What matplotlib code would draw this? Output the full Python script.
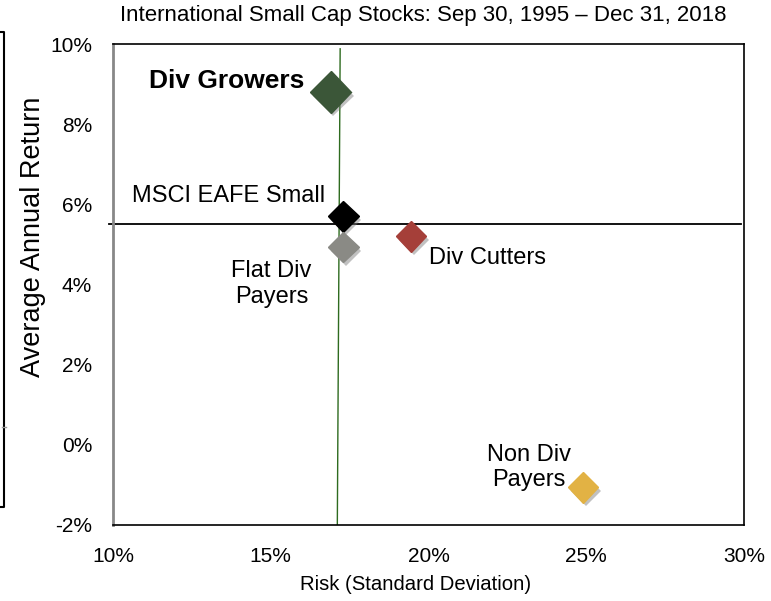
import matplotlib
matplotlib.use("Agg")
import matplotlib.pyplot as plt
import matplotlib.patheffects as pe
from matplotlib.lines import Line2D

plt.rcParams["font.family"] = ["Liberation Sans", "DejaVu Sans"]

# ---- data -----------------------------------------------------------------
names = ["Div Growers", "MSCI EAFE Small", "Flat Div Payers", "Div Cutters", "Non Div Payers"]
risk = [16.9, 17.3, 17.3, 19.45, 24.9]       # std dev, %
ret = [8.8, 5.7, 4.93, 5.2, -1.06]           # avg annual return, %
colors = ["#3b5638", "#000000", "#8a8a85", "#a53f39", "#e2b244"]
sizes = [21, 15.5, 15.5, 15.5, 15.5]

bench_ret = 5.5                              # horizontal reference line
bench_risk = [(17.2, 9.88), (17.11, -2.0)]   # slightly tilted vertical line

xticks = [10, 15, 20, 25, 30]
yticks = [-2, 0, 2, 4, 6, 8, 10]

labels = ["Div Growers", "MSCI EAFE Small", "Flat Div\nPayers", "Div Cutters", "Non Div\nPayers"]
label_pos = [(16.06, 9.08, "right"), (16.73, 6.22, "right"), (15.02, 4.01, "center"),
             (20.03, 4.66, "left"), (23.17, -0.56, "center")]

W, H = 771, 601

# ---- figure ----------------------------------------------------------------
fig = plt.figure(figsize=(W / 100, H / 100), dpi=100)
ax = fig.add_axes([113 / W, 1 - 525 / H, 631 / W, 481 / H])
ax.set_xlim(10, 30)
ax.set_ylim(-2, 10)

ax.axhline(bench_ret, xmin=-0.007, xmax=0.995, color="black", lw=1.3, clip_on=False, zorder=2)
ax.plot([p[0] for p in bench_risk], [p[1] for p in bench_risk], color="#2e6b1f", lw=1.0, zorder=2)

shadow = [pe.SimplePatchShadow(offset=(2, -2.5), shadow_rgbFace="#777777", alpha=0.45), pe.Normal()]
for x, y, c, s in zip(risk, ret, colors, sizes):
    ax.plot([x], [y], marker="D", ms=s, color=c, mec=c, ls="none", zorder=3,
            path_effects=shadow)

for txt, (x, y, ha) in zip(labels, label_pos):
    bold = "Growers" in txt
    ax.text(x, y, txt, ha=ha, va="center", fontsize=19 if bold else 17,
            fontweight="bold" if bold else "normal")

ax.set_xticks(xticks)
ax.set_xticklabels([f"{v}%" for v in xticks])
ax.set_yticks(yticks)
ax.set_yticklabels([f"{v}%" for v in yticks])
ax.tick_params(length=0, labelsize=15)
ax.tick_params(axis="x", pad=16)
ax.tick_params(axis="y", pad=15)

for side in ("top", "right", "bottom"):
    ax.spines[side].set_color("black")
    ax.spines[side].set_linewidth(1.2)
ax.spines["left"].set_color("#888888")
ax.spines["left"].set_linewidth(2.0)

fig.text(416 / W, 1 - 585 / H, "Risk (Standard Deviation)", fontsize=14.6,
         ha="center", va="center")
fig.text(33 / W, 1 - 237 / H, "Average Annual Return", fontsize=19.5,
         rotation=90, ha="center", va="center")
fig.text(423 / W, 1 - 16 / H, "International Small Cap Stocks: Sep 30, 1995 \u2013 Dec 31, 2018",
         fontsize=16, ha="center", va="center")

# cropped bracket at the left edge
bx = [0, 4 / W, 4 / W, 0]
by = [1 - 32 / H, 1 - 32 / H, 1 - 507 / H, 1 - 507 / H]
fig.add_artist(Line2D(bx, by, transform=fig.transFigure, color="black", lw=1.5))
fig.add_artist(Line2D([2 / W, 6 / W], [1 - 427 / H] * 2, transform=fig.transFigure,
                      color="#999999", lw=1.0))

fig.savefig("out.png", dpi=100)
